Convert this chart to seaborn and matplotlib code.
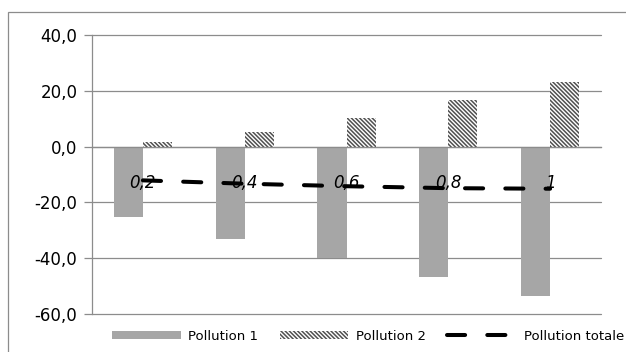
import numpy as np
import pandas as pd
import matplotlib
matplotlib.use("Agg")
import matplotlib.pyplot as plt
from matplotlib.patches import Patch, Rectangle
from matplotlib.lines import Line2D
from matplotlib.ticker import FuncFormatter, FixedLocator
import seaborn as sns

# Data
categories = ["0,2", "0,4", "0,6", "0,8", "1"]
pollution_1 = [-25.2, -33.0, -40.0, -46.9, -53.6]
pollution_2 = [1.5, 5.1, 10.2, 16.7, 23.2]
pollution_totale = [-12.1, -13.3, -14.2, -14.9, -15.1]
series_names = ["Pollution 1", "Pollution 2", "Pollution totale"]
y_ticks = [-60, -40, -20, 0, 20, 40]

sns.set_theme(style="white")
plt.rcParams["font.family"] = ["DejaVu Sans"]
plt.rcParams["hatch.linewidth"] = 1.1
plt.rcParams["text.color"] = "black"
plt.rcParams["xtick.color"] = "black"
plt.rcParams["ytick.color"] = "black"

GRID = "#8c8c8c"
BAR1 = "#a6a6a6"
HATCH = "#505050"
HATCH_PAT = "\\" * 8

fig = plt.figure(figsize=(6.26, 3.52), dpi=100)
ax = fig.add_axes([92 / 626, 1 - 314 / 352, (601 - 92) / 626, (314 - 35) / 352])

df = pd.DataFrame({
    "cat": categories * 2,
    "val": pollution_1 + pollution_2,
    "serie": [series_names[0]] * len(categories) + [series_names[1]] * len(categories),
})

sns.barplot(data=df, x="cat", y="val", hue="serie", order=categories,
            hue_order=series_names[:2], palette=[BAR1, "white"],
            width=0.57, saturation=1, linewidth=0, legend=False, ax=ax)

for bar in ax.containers[1]:
    bar.set_hatch(HATCH_PAT)
    bar.set_edgecolor(HATCH)
    bar.set_linewidth(0)

sns.lineplot(x=categories, y=pollution_totale, color="black", lw=2.9,
             linestyle=(0, (4.5, 5.5)), ax=ax, zorder=7)
for ln in ax.lines:
    ln.set_dash_capstyle("round")

ax.set_xlim(-0.5, len(categories) - 0.5)
ax.set_ylim(y_ticks[0], y_ticks[-1])
ax.set_yticks(y_ticks)
ax.yaxis.set_major_formatter(FuncFormatter(lambda v, p: f"{v:.1f}".replace(".", ",")))
ax.set_xlabel("")
ax.set_ylabel("")

ax.grid(axis="y", color=GRID, lw=0.9)
ax.set_axisbelow(True)
for gl in ax.get_ygridlines():
    gl.set_clip_on(False)
# category labels sit on top of the bars, under the dashed line
ax.xaxis.set_zorder(6)

for s in ["top", "right"]:
    ax.spines[s].set_visible(False)
ax.spines["left"].set_color(GRID)
ax.spines["left"].set_linewidth(0.9)
ax.spines["bottom"].set_position(("data", 0))
ax.spines["bottom"].set_color(GRID)
ax.spines["bottom"].set_linewidth(0.9)
ax.spines["bottom"].set_zorder(3)

ax.xaxis.set_major_locator(FixedLocator(range(len(categories))))
ax.set_xticklabels(categories, fontstyle="italic", fontsize=12, color="black")
ax.xaxis.set_minor_locator(FixedLocator(np.arange(len(categories) + 1) - 0.5))
ax.tick_params(axis="x", which="major", length=0, pad=20, labelsize=12, labelcolor="black")
ax.tick_params(axis="x", which="minor", length=5, width=0.9, color=GRID, direction="out")
ax.tick_params(axis="y", length=5.5, width=0.9, color=GRID, direction="out",
               left=True, labelsize=12, pad=5, labelcolor="black")

handles = [
    Patch(facecolor=BAR1, edgecolor=BAR1, lw=0),
    Patch(facecolor="white", edgecolor=HATCH, hatch=HATCH_PAT, lw=0),
    Line2D([], [], color="black", lw=2.9, linestyle=(0, (4.5, 5.5)),
           dash_capstyle="round"),
]
fig.legend(handles, series_names, loc="center", bbox_to_anchor=(368 / 626, 1 - 336 / 352),
           ncol=3, frameon=False, fontsize=9.5, handlelength=5.2, handleheight=0.6,
           handletextpad=0.6, columnspacing=1.6, borderpad=0, labelcolor="black")

# Chart frame
fig.patches.append(Rectangle((8 / 626, -0.2), 1.2, 1.2 - 12 / 352, transform=fig.transFigure,
                             fill=False, edgecolor=GRID, lw=0.9, figure=fig))

fig.savefig("out.png", dpi=100)
